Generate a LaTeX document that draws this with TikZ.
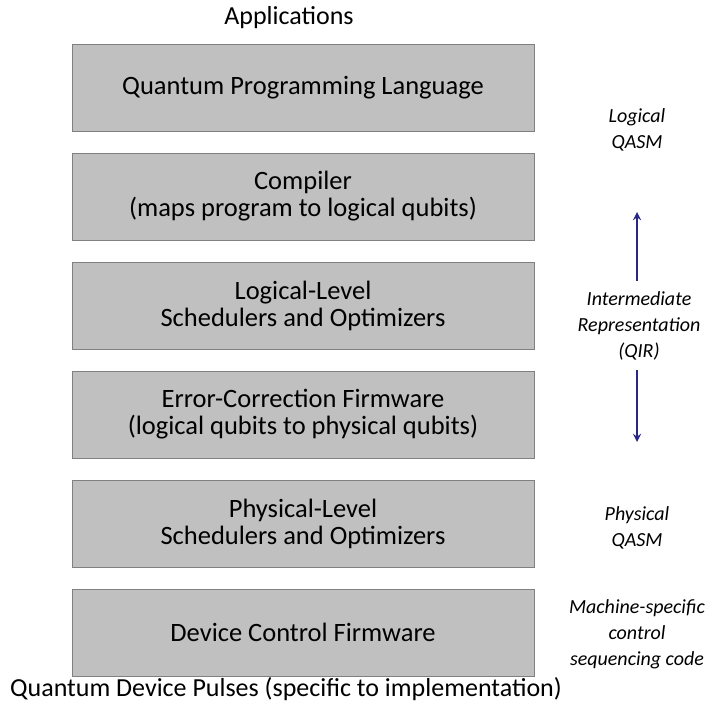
\documentclass[tikz,border=0pt]{standalone}
\usepackage{fontspec}
\setmainfont{Carlito}
\usepackage{tikz}
\usetikzlibrary{arrows}
\definecolor{boxgray}{RGB}{192,192,192}
\definecolor{boxedge}{RGB}{128,128,128}
\definecolor{irblue}{RGB}{42,40,135}
\tikzstyle{layer} = [rectangle, minimum width=462pt, minimum height=87pt, text centered, align=center, fill=boxgray, draw=boxedge, font=\fontsize{26.5}{27}\selectfont]
\tikzstyle{side} = [align=center, font=\fontsize{20}{26}\selectfont\itshape]
\tikzstyle{arrow} = [line width=2.6pt, irblue, ->, >=stealth]

\begin{document}
\begin{tikzpicture}[x=1pt, y=-1pt]
                            \useasboundingbox (0, 0) rectangle (712, 705);
                            \node (apps) at (289, 18) {\fontsize{26}{27}\selectfont Applications};
                            \node [layer] (qpl) at (303, 87.5) {Quantum Programming Language};
                            \node [layer] (comp) at (303, 196.5) {Compiler\\(maps program to logical qubits)};
                            \node [layer] (lsched) at (303, 305.5) {Logical-Level\\Schedulers and Optimizers};
                            \node [layer] (ecfw) at (303, 414.5) {Error-Correction Firmware\\(logical qubits to physical qubits)};
                            \node [layer] (psched) at (303, 523.5) {Physical-Level\\Schedulers and Optimizers};
                            \node [layer] (dcfw) at (303, 632.5) {Device Control Firmware};
                            \node (pulses) at (286, 689) {\fontsize{26}{27}\selectfont Quantum Device Pulses (specific to implementation)};
                            \node [side] (lqasm) at (637, 130) {Logical\\QASM};
                            \node [side] (qir) at (639, 326) {Intermediate\\Representation\\(QIR)};
                            \node [side] (pqasm) at (637, 528) {Physical\\QASM};
                            \node [side] (mscode) at (637, 634) {Machine-specific\\control\\sequencing code};
                            \coordinate (irup) at (637, 281);
                            \coordinate (irtop) at (637, 212);
                            \coordinate (irdn) at (637, 370);
                            \coordinate (irbot) at (637, 442);
                            \draw [arrow] (irup) -- (irtop);
                            \draw [arrow] (irdn) -- (irbot);
                        \end{tikzpicture}
\end{document}
